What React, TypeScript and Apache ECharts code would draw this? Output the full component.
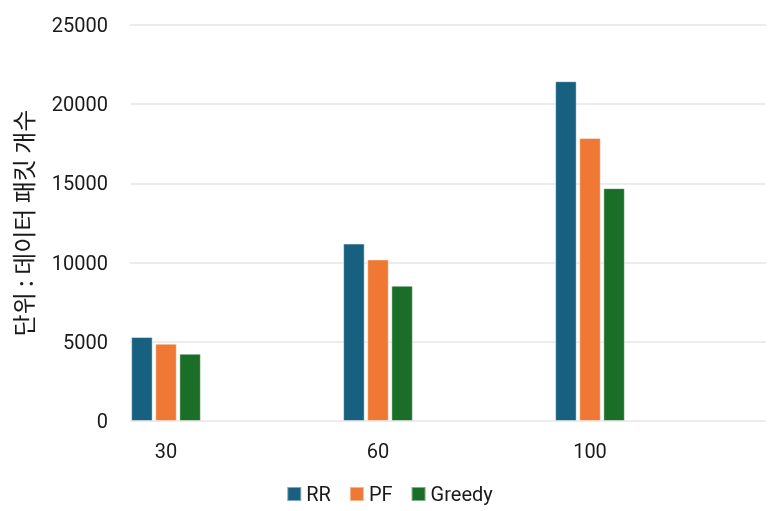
import React, { useEffect, useRef } from "react";
import * as echarts from "echarts";

const categories = ["30", "60", "100"];
const seriesNames = ["RR", "PF", "Greedy"];
const rrValues = [5300, 11200, 21450];
const pfValues = [4880, 10200, 17870];
const greedyValues = [4250, 8540, 14700];
const colors = ["#17607f", "#f07835", "#1a6e28"];
const yTicks = { min: 0, max: 25000, interval: 5000 };

export default function App() {
  const ref = useRef<HTMLDivElement>(null);
  useEffect(() => {
    if (!ref.current) return;
    const chart = echarts.init(ref.current, undefined, { renderer: "svg" });
    const font = "Roboto, 'Noto Sans', sans-serif";
    const values = [rrValues, pfValues, greedyValues];
    chart.setOption({
      animation: false,
      textStyle: { fontFamily: font },
      grid: [
        { left: 130, right: 13, top: 25, bottom: 90 },
        { left: 60, right: 83, top: 25, bottom: 90 },
      ],
      legend: {
        data: seriesNames,
        left: "center",
        top: 479,
        itemWidth: 14,
        itemHeight: 14,
        itemGap: 18,
        icon: "rect",
        textStyle: { fontSize: 20, color: "#1a1a1a", fontFamily: font },
      },
      xAxis: [
        { type: "value", gridIndex: 0, show: false, min: 0, max: 1 },
        {
          type: "category",
          gridIndex: 1,
          data: categories,
          axisLine: { show: false },
          axisTick: { show: false },
          splitLine: { show: false },
          axisLabel: { fontSize: 20, color: "#1a1a1a", margin: 20, fontFamily: font },
        },
      ],
      yAxis: [
        {
          type: "value",
          gridIndex: 0,
          ...yTicks,
          name: "단위 : 데이터 패킷 개수",
          nameLocation: "middle",
          nameGap: 96,
          nameRotate: 90,
          nameTextStyle: { fontSize: 24, color: "#1a1a1a", fontFamily: "'Noto Sans CJK KR', sans-serif" },
          axisLine: { show: false },
          axisTick: { show: false },
          axisLabel: {
            fontSize: 20,
            color: "#1a1a1a",
            margin: 22,
            fontFamily: font,
            formatter: (v: number) => String(v),
          },
          splitLine: { lineStyle: { color: "#ececec", width: 2 } },
        },
        { type: "value", gridIndex: 1, ...yTicks, show: false, splitLine: { show: false } },
      ],
      series: seriesNames.map((name, i) => ({
        name,
        type: "bar",
        xAxisIndex: 1,
        yAxisIndex: 1,
        data: values[i],
        barWidth: 21.5,
        barGap: "12%",
        itemStyle: {
          color: colors[i],
          borderColor: "rgba(255,255,255,0.45)",
          borderWidth: 1,
        },
      })),
    });
    return () => chart.dispose();
  }, []);
  return (
    <div
      ref={ref}
      style={{ position: "fixed", left: 0, top: 0, width: 779, height: 511 }}
    />
  );
}
